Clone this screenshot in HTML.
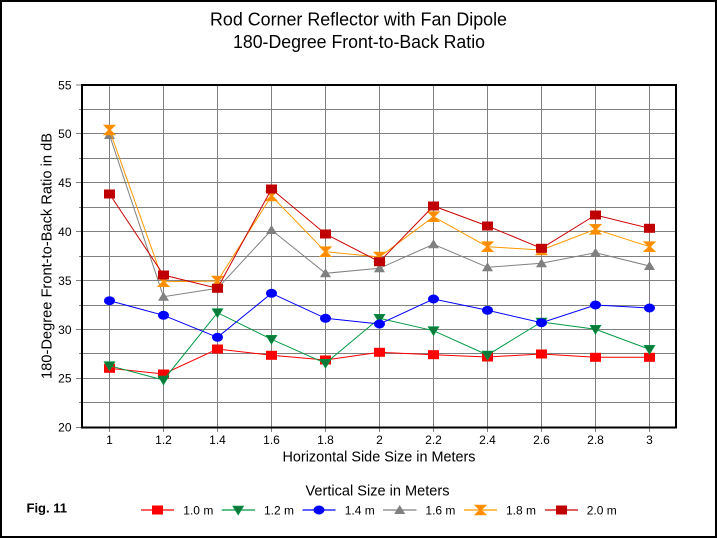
<!DOCTYPE html>
<html>
<head>
<meta charset="utf-8">
<style>
  html,body{margin:0;padding:0;background:#fff;}
  svg{display:block;}
  text{font-family:"Liberation Sans", Arial, sans-serif; fill:#000;}
</style>
</head>
<body>
<svg width="717" height="538" viewBox="0 0 717 538" xmlns="http://www.w3.org/2000/svg">
  <rect x="0" y="0" width="717" height="538" fill="#fff"/>
  <!-- outer frame -->
  <rect x="1" y="1" width="715" height="536" fill="none" stroke="#000" stroke-width="2"/>

  <!-- titles -->
  <text x="358.5" y="25.5" font-size="18" text-anchor="middle" textLength="297" lengthAdjust="spacingAndGlyphs">Rod Corner Reflector with Fan Dipole</text>
  <text x="359" y="48" font-size="18" text-anchor="middle" textLength="252" lengthAdjust="spacingAndGlyphs">180-Degree Front-to-Back Ratio</text>

  <!-- horizontal gridlines -->
  <g stroke="#808080" stroke-width="1" fill="none">
    <!-- majors (with longer tick) -->
    <line x1="76" y1="378.5" x2="676" y2="378.5"/>
    <line x1="76" y1="329.5" x2="676" y2="329.5"/>
    <line x1="76" y1="280.5" x2="676" y2="280.5"/>
    <line x1="76" y1="231.5" x2="676" y2="231.5"/>
    <line x1="76" y1="182.5" x2="676" y2="182.5"/>
    <line x1="76" y1="133.5" x2="676" y2="133.5"/>
    <line x1="76" y1="85" x2="82" y2="85"/>
    <line x1="76" y1="427.5" x2="82" y2="427.5"/>
    <!-- minors -->
    <line x1="79" y1="402.5" x2="676" y2="402.5"/>
    <line x1="79" y1="353.5" x2="676" y2="353.5"/>
    <line x1="79" y1="305.5" x2="676" y2="305.5"/>
    <line x1="79" y1="256.5" x2="676" y2="256.5"/>
    <line x1="79" y1="207.5" x2="676" y2="207.5"/>
    <line x1="79" y1="158.5" x2="676" y2="158.5"/>
    <line x1="79" y1="109.5" x2="676" y2="109.5"/>
    <!-- vertical gridlines -->
    <line x1="109.5" y1="85" x2="109.5" y2="432"/>
    <line x1="163.5" y1="85" x2="163.5" y2="432"/>
    <line x1="217.5" y1="85" x2="217.5" y2="432"/>
    <line x1="271.5" y1="85" x2="271.5" y2="432"/>
    <line x1="325.5" y1="85" x2="325.5" y2="432"/>
    <line x1="379.5" y1="85" x2="379.5" y2="432"/>
    <line x1="433.5" y1="85" x2="433.5" y2="432"/>
    <line x1="487.5" y1="85" x2="487.5" y2="432"/>
    <line x1="541.5" y1="85" x2="541.5" y2="432"/>
    <line x1="595.5" y1="85" x2="595.5" y2="432"/>
    <line x1="649.5" y1="85" x2="649.5" y2="432"/>
  </g>

  <!-- plot frame -->
  <rect x="82" y="85" width="594" height="342.5" fill="none" stroke="#000" stroke-width="2"/>

  <!-- y tick labels -->
  <g font-size="12" text-anchor="end">
    <text x="71.5" y="431.5">20</text>
    <text x="71.5" y="382.7">25</text>
    <text x="71.5" y="333.8">30</text>
    <text x="71.5" y="284.9">35</text>
    <text x="71.5" y="236">40</text>
    <text x="71.5" y="187.1">45</text>
    <text x="71.5" y="138.2">50</text>
    <text x="71.5" y="89.3">55</text>
  </g>

  <!-- x tick labels -->
  <g font-size="12" text-anchor="middle">
    <text x="109.5" y="444">1</text>
    <text x="163.5" y="444">1.2</text>
    <text x="217.5" y="444">1.4</text>
    <text x="271.5" y="444">1.6</text>
    <text x="325.5" y="444">1.8</text>
    <text x="379.5" y="444">2</text>
    <text x="433.5" y="444">2.2</text>
    <text x="487.5" y="444">2.4</text>
    <text x="541.5" y="444">2.6</text>
    <text x="595.5" y="444">2.8</text>
    <text x="649.5" y="444">3</text>
  </g>

  <!-- axis titles -->
  <text x="379" y="461.5" font-size="14.4" text-anchor="middle" textLength="193" lengthAdjust="spacingAndGlyphs">Horizontal Side Size in Meters</text>
  <text transform="translate(51.5,256) rotate(-90)" x="0" y="0" font-size="14.4" text-anchor="middle" textLength="246" lengthAdjust="spacingAndGlyphs">180-Degree Front-to-Back Ratio in dB</text>

  <!-- Series 1.0 m (red squares) -->
  <polyline fill="none" stroke="#FF0000" stroke-width="1"
    points="109.5,368.3 163.5,374 217.5,349 271.5,355.3 325.5,360 379.5,352.3 433.5,354.7 487.5,357 541.5,354 595.5,357.3 649.5,357.3"/>
  <g fill="#FF0000">
    <rect x="104" y="363.8" width="11" height="9"/>
    <rect x="158" y="369.5" width="11" height="9"/>
    <rect x="212" y="344.5" width="11" height="9"/>
    <rect x="266" y="350.8" width="11" height="9"/>
    <rect x="320" y="355.5" width="11" height="9"/>
    <rect x="374" y="347.8" width="11" height="9"/>
    <rect x="428" y="350.2" width="11" height="9"/>
    <rect x="482" y="352.5" width="11" height="9"/>
    <rect x="536" y="349.5" width="11" height="9"/>
    <rect x="590" y="352.8" width="11" height="9"/>
    <rect x="644" y="352.8" width="11" height="9"/>
  </g>

  <!-- Series 1.2 m (green inverted triangles) -->
  <polyline fill="none" stroke="#009A44" stroke-width="1"
    points="109.5,365.7 163.5,380 217.5,312.7 271.5,339.3 325.5,363.3 379.5,318.3 433.5,330.7 487.5,355 541.5,322 595.5,329.3 649.5,349.3"/>
  <g fill="#0B7A3A" stroke="#009A44" stroke-width="0.6">
    <polygon points="104,361.7 115,361.7 109.5,370.7"/>
    <polygon points="158,376 169,376 163.5,385"/>
    <polygon points="212,308.7 223,308.7 217.5,317.7"/>
    <polygon points="266,335.3 277,335.3 271.5,344.3"/>
    <polygon points="320,359.3 331,359.3 325.5,368.3"/>
    <polygon points="374,314.3 385,314.3 379.5,323.3"/>
    <polygon points="428,326.7 439,326.7 433.5,335.7"/>
    <polygon points="482,351 493,351 487.5,360"/>
    <polygon points="536,318 547,318 541.5,327"/>
    <polygon points="590,325.3 601,325.3 595.5,334.3"/>
    <polygon points="644,345.3 655,345.3 649.5,354.3"/>
  </g>

  <!-- Series 1.4 m (blue circles) -->
  <polyline fill="none" stroke="#0000FF" stroke-width="1"
    points="109.5,300.7 163.5,315.3 217.5,337.3 271.5,293.3 325.5,318.3 379.5,324 433.5,299 487.5,310.3 541.5,322.7 595.5,305 649.5,308"/>
  <g fill="#0000FF">
    <ellipse cx="109.5" cy="300.7" rx="5.5" ry="4.5"/>
    <ellipse cx="163.5" cy="315.3" rx="5.5" ry="4.5"/>
    <ellipse cx="217.5" cy="337.3" rx="5.5" ry="4.5"/>
    <ellipse cx="271.5" cy="293.3" rx="5.5" ry="4.5"/>
    <ellipse cx="325.5" cy="318.3" rx="5.5" ry="4.5"/>
    <ellipse cx="379.5" cy="324" rx="5.5" ry="4.5"/>
    <ellipse cx="433.5" cy="299" rx="5.5" ry="4.5"/>
    <ellipse cx="487.5" cy="310.3" rx="5.5" ry="4.5"/>
    <ellipse cx="541.5" cy="322.7" rx="5.5" ry="4.5"/>
    <ellipse cx="595.5" cy="305" rx="5.5" ry="4.5"/>
    <ellipse cx="649.5" cy="308" rx="5.5" ry="4.5"/>
  </g>

  <!-- Series 1.6 m (gray triangles) -->
  <polyline fill="none" stroke="#808080" stroke-width="1"
    points="109.5,135 163.5,296.7 217.5,288.3 271.5,230 325.5,273.3 379.5,268.3 433.5,244.3 487.5,267.3 541.5,263.3 595.5,252.7 649.5,266"/>
  <g fill="#808080">
    <polygon points="104,139 115,139 109.5,130"/>
    <polygon points="158,300.7 169,300.7 163.5,291.7"/>
    <polygon points="212,292.3 223,292.3 217.5,283.3"/>
    <polygon points="266,234 277,234 271.5,225"/>
    <polygon points="320,277.3 331,277.3 325.5,268.3"/>
    <polygon points="374,272.3 385,272.3 379.5,263.3"/>
    <polygon points="428,248.3 439,248.3 433.5,239.3"/>
    <polygon points="482,271.3 493,271.3 487.5,262.3"/>
    <polygon points="536,267.3 547,267.3 541.5,258.3"/>
    <polygon points="590,256.7 601,256.7 595.5,247.7"/>
    <polygon points="644,270 655,270 649.5,261"/>
  </g>

  <!-- Series 1.8 m (orange hourglass) -->
  <polyline fill="none" stroke="#FF9900" stroke-width="1"
    points="109.5,130 163.5,281.7 217.5,281 271.5,196 325.5,251.7 379.5,257 433.5,216.7 487.5,246.7 541.5,250 595.5,229.3 649.5,246.7"/>
  <g fill="#FF8C00" stroke="#FF9900" stroke-width="0.6">
    <polygon points="103.5,125 115.5,125 110.5,130 115.5,135 103.5,135 108.5,130"/>
    <polygon points="157.5,276.7 169.5,276.7 164.5,281.7 169.5,286.7 157.5,286.7 162.5,281.7"/>
    <polygon points="211.5,276 223.5,276 218.5,281 223.5,286 211.5,286 216.5,281"/>
    <polygon points="265.5,191 277.5,191 272.5,196 277.5,201 265.5,201 270.5,196"/>
    <polygon points="319.5,246.7 331.5,246.7 326.5,251.7 331.5,256.7 319.5,256.7 324.5,251.7"/>
    <polygon points="373.5,252 385.5,252 380.5,257 385.5,262 373.5,262 378.5,257"/>
    <polygon points="427.5,211.7 439.5,211.7 434.5,216.7 439.5,221.7 427.5,221.7 432.5,216.7"/>
    <polygon points="481.5,241.7 493.5,241.7 488.5,246.7 493.5,251.7 481.5,251.7 486.5,246.7"/>
    <polygon points="535.5,245 547.5,245 542.5,250 547.5,255 535.5,255 540.5,250"/>
    <polygon points="589.5,224.3 601.5,224.3 596.5,229.3 601.5,234.3 589.5,234.3 594.5,229.3"/>
    <polygon points="643.5,241.7 655.5,241.7 650.5,246.7 655.5,251.7 643.5,251.7 648.5,246.7"/>
  </g>

  <!-- Series 2.0 m (dark red squares) -->
  <polyline fill="none" stroke="#CC0000" stroke-width="1"
    points="109.5,194 163.5,275 217.5,288.3 271.5,189 325.5,234 379.5,261.7 433.5,206 487.5,226 541.5,248.3 595.5,215 649.5,228.3"/>
  <g fill="#C00000">
    <rect x="104" y="189.5" width="11" height="9"/>
    <rect x="158" y="270.5" width="11" height="9"/>
    <rect x="212" y="283.8" width="11" height="9"/>
    <rect x="266" y="184.5" width="11" height="9"/>
    <rect x="320" y="229.5" width="11" height="9"/>
    <rect x="374" y="257.2" width="11" height="9"/>
    <rect x="428" y="201.5" width="11" height="9"/>
    <rect x="482" y="221.5" width="11" height="9"/>
    <rect x="536" y="243.8" width="11" height="9"/>
    <rect x="590" y="210.5" width="11" height="9"/>
    <rect x="644" y="223.8" width="11" height="9"/>
  </g>

  <!-- Legend -->
  <text x="377.5" y="495.7" font-size="14.5" text-anchor="middle" textLength="144" lengthAdjust="spacingAndGlyphs">Vertical Size in Meters</text>
  <text x="26.5" y="512.5" font-size="13" font-weight="bold" textLength="40.5" lengthAdjust="spacingAndGlyphs">Fig. 11</text>

  <g stroke-width="1.2">
    <line x1="141" y1="510" x2="174" y2="510" stroke="#FF0000"/>
    <line x1="221.7" y1="510" x2="255" y2="510" stroke="#009A44"/>
    <line x1="302.5" y1="510" x2="335.5" y2="510" stroke="#0000FF"/>
    <line x1="383" y1="510" x2="416.5" y2="510" stroke="#808080"/>
    <line x1="464" y1="510" x2="497" y2="510" stroke="#FF9900"/>
    <line x1="545" y1="510" x2="578" y2="510" stroke="#CC0000"/>
  </g>
  <rect x="152" y="505.5" width="11" height="9" fill="#FF0000"/>
  <polygon points="232.7,506 243.7,506 238.2,515" fill="#0B7A3A" stroke="#009A44" stroke-width="0.6"/>
  <ellipse cx="319" cy="510" rx="5.5" ry="4.5" fill="#0000FF"/>
  <polygon points="394.2,514 405.2,514 399.7,505" fill="#808080"/>
  <polygon points="474.5,505 486.5,505 481.5,510 486.5,515 474.5,515 479.5,510" fill="#FF8C00" stroke="#FF9900" stroke-width="0.6"/>
  <rect x="556" y="505.5" width="11" height="9" fill="#C00000"/>

  <g font-size="12">
    <text x="183.3" y="514.3">1.0 m</text>
    <text x="264" y="514.3">1.2 m</text>
    <text x="344.7" y="514.3">1.4 m</text>
    <text x="425.4" y="514.3">1.6 m</text>
    <text x="506" y="514.3">1.8 m</text>
    <text x="586.7" y="514.3">2.0 m</text>
  </g>
</svg>
</body>
</html>
